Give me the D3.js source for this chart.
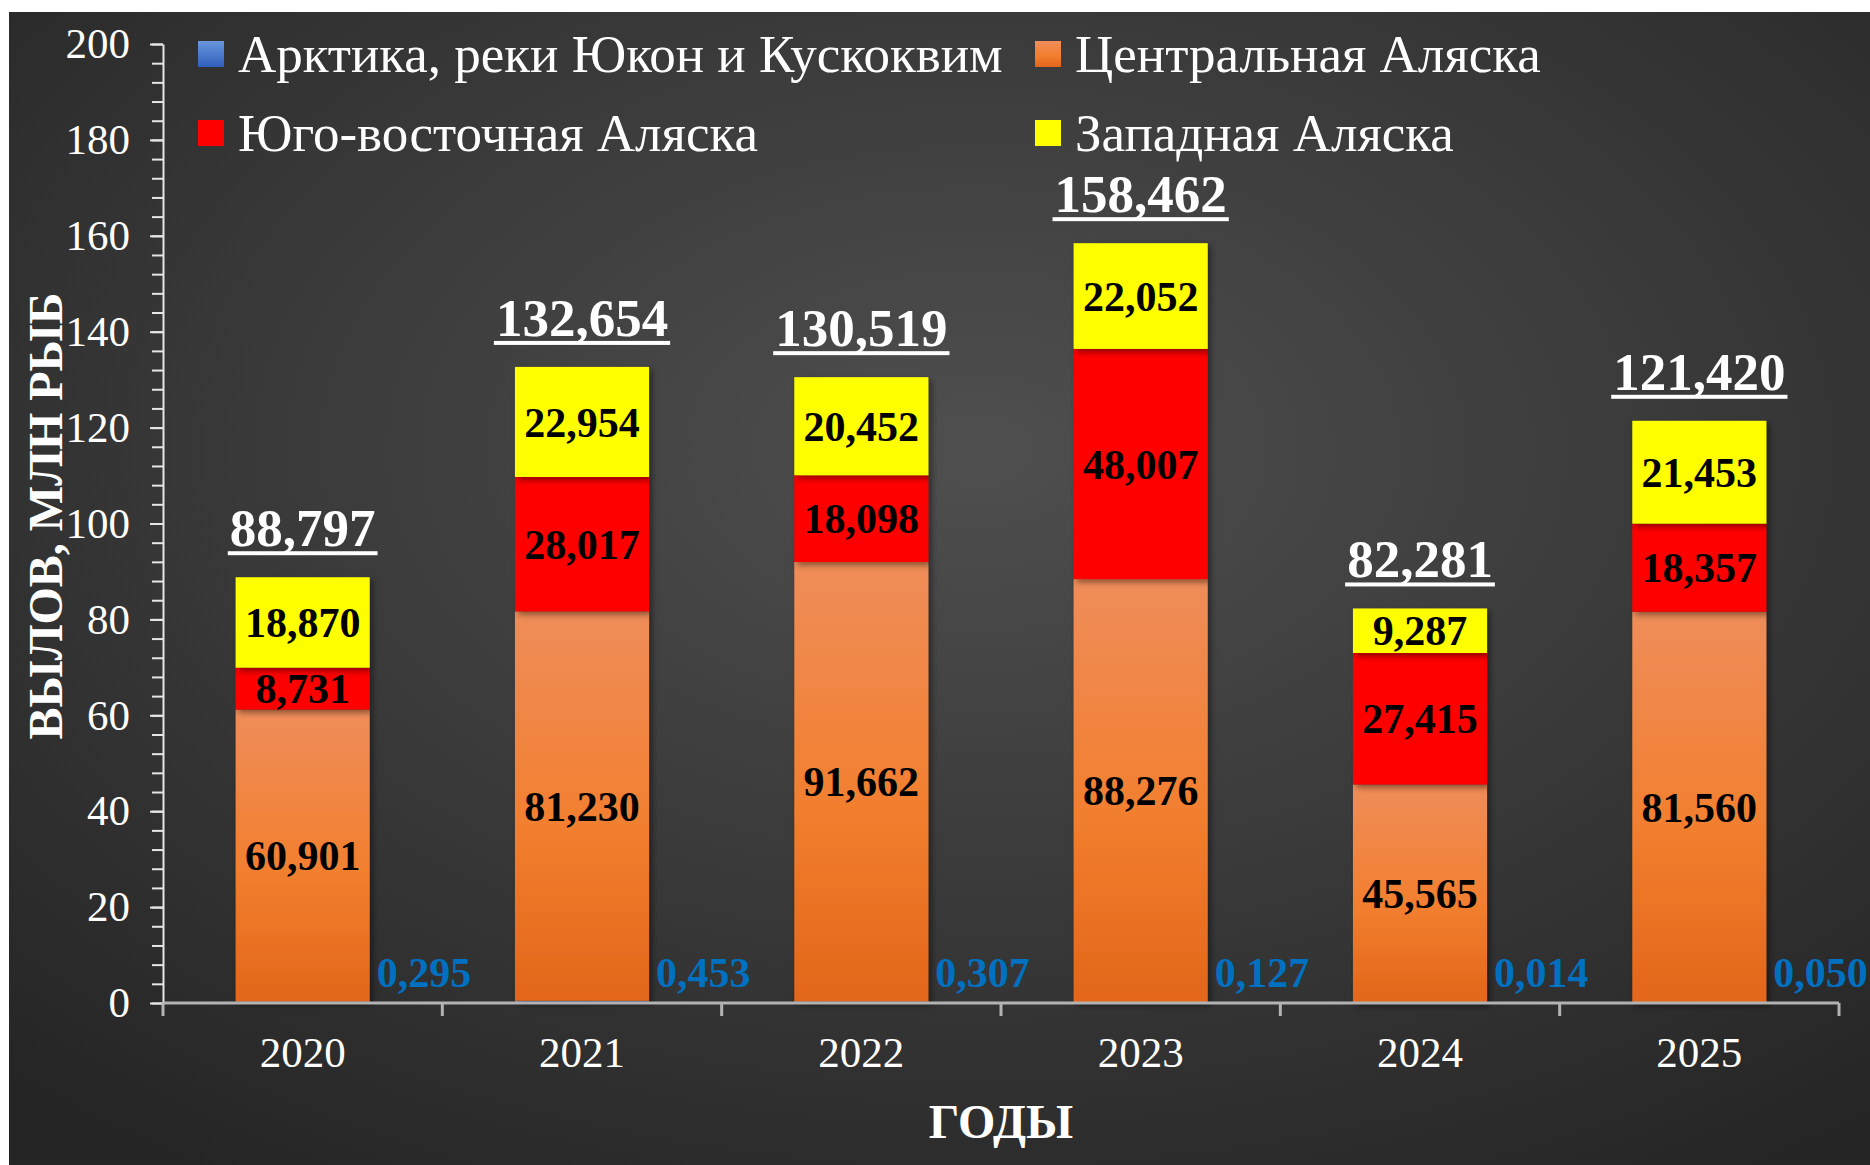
<!DOCTYPE html>
<html>
<head>
<meta charset="utf-8">
<script src="https://cdn.jsdelivr.net/npm/d3@7"></script>
<style>
  body { margin: 0; background: #fff; }
  svg { display: block; font-family: "Liberation Serif", "Times New Roman", serif; }
</style>
</head>
<body>
<script>
var W = 1870, H = 1165;

var years = ["2020", "2021", "2022", "2023", "2024", "2025"];
var arctic    = [0.295, 0.453, 0.307, 0.127, 0.014, 0.050];
var central   = [60.901, 81.230, 91.662, 88.276, 45.565, 81.560];
var southeast = [8.731, 28.017, 18.098, 48.007, 27.415, 18.357];
var western   = [18.870, 22.954, 20.452, 22.052, 9.287, 21.453];
var seriesNames = ["Арктика, реки Юкон и Кускоквим", "Центральная Аляска", "Юго-восточная Аляска", "Западная Аляска"];
var yTicks = d3.range(0, 201, 20);

var margin = {top: 44, right: 31, bottom: 162, left: 163};

var ruLocale = d3.formatLocale({decimal: ",", thousands: " ", grouping: [3], currency: ["", ""]});
var fmt = ruLocale.format(".3f");

// table for the stack
var data = years.map(function(y, i) {
  return {year: y, arctic: arctic[i], central: central[i], southeast: southeast[i], western: western[i]};
});
var keys = ["arctic", "central", "southeast", "western"];
var stack = d3.stack().keys(keys)(data);

var x = d3.scaleBand()
  .domain(years)
  .range([margin.left, W - margin.right])
  .paddingInner(0.52)
  .paddingOuter(0.26);

var y = d3.scaleLinear()
  .domain([0, 200])
  .range([H - margin.bottom, margin.top]);

var svg = d3.select("body").append("svg")
  .attr("width", W)
  .attr("height", H);

var defs = svg.append("defs");

var bg = defs.append("radialGradient").attr("id", "bg")
  .attr("cx", "52%").attr("cy", "38%").attr("r", "75%");
bg.append("stop").attr("offset", "0%").attr("stop-color", "#4f4f4f");
bg.append("stop").attr("offset", "100%").attr("stop-color", "#252525");

var og = defs.append("linearGradient").attr("id", "orange")
  .attr("x1", 0).attr("y1", 0).attr("x2", 0).attr("y2", 1);
og.append("stop").attr("offset", "0%").attr("stop-color", "#ef8d5a");
og.append("stop").attr("offset", "55%").attr("stop-color", "#f27f2f");
og.append("stop").attr("offset", "100%").attr("stop-color", "#e3661a");

var bgr = defs.append("linearGradient").attr("id", "blue")
  .attr("x1", 0).attr("y1", 0).attr("x2", 0).attr("y2", 1);
bgr.append("stop").attr("offset", "0%").attr("stop-color", "#6a96dc");
bgr.append("stop").attr("offset", "100%").attr("stop-color", "#2f5fbd");

var sh = defs.append("filter").attr("id", "shadow")
  .attr("x", "-20%").attr("y", "-20%").attr("width", "140%").attr("height", "140%");
sh.append("feDropShadow").attr("dx", 3).attr("dy", 3).attr("stdDeviation", 3)
  .attr("flood-color", "#000").attr("flood-opacity", 0.45);

var fills = {arctic: "url(#blue)", central: "url(#orange)", southeast: "#ff0000", western: "#ffff00"};

// background panel
svg.append("rect")
  .attr("x", 9).attr("y", 12)
  .attr("width", W - 9).attr("height", H - 12)
  .attr("fill", "url(#bg)");

// bars
svg.selectAll(".layer")
  .data(stack)
  .enter().append("g")
    .attr("class", "layer")
    .attr("fill", function(d) { return fills[d.key]; })
  .selectAll("rect")
  .data(function(d) { return d; })
  .enter().append("rect")
    .attr("x", function(d) { return x(d.data.year); })
    .attr("width", x.bandwidth())
    .attr("y", function(d) { return y(d[1]); })
    .attr("height", function(d) { return y(d[0]) - y(d[1]); })
    .attr("filter", "url(#shadow)");

// segment labels (black, bold)
["central", "southeast", "western"].forEach(function(k) {
  var layer = stack[keys.indexOf(k)];
  svg.selectAll(".lbl-" + k)
    .data(layer)
    .enter().append("text")
      .attr("class", "lbl-" + k)
      .attr("x", function(d) { return x(d.data.year) + x.bandwidth() / 2; })
      .attr("y", function(d) { return (y(d[0]) + y(d[1])) / 2; })
      .attr("dy", "0.35em")
      .attr("text-anchor", "middle")
      .attr("font-size", 42)
      .attr("font-weight", "bold")
      .attr("fill", "#000")
      .text(function(d) { return fmt(d.data[k]); });
});

// arctic labels (blue, right of bar)
svg.selectAll(".lbl-arctic")
  .data(data)
  .enter().append("text")
    .attr("class", "lbl-arctic")
    .attr("x", function(d) { return x(d.year) + x.bandwidth() + 7; })
    .attr("y", y(0) - 16)
    .attr("font-size", 42)
    .attr("font-weight", "bold")
    .attr("fill", "#0070c0")
    .text(function(d) { return fmt(d.arctic); });

// totals, underlined
var totals = svg.selectAll(".total")
  .data(data)
  .enter().append("g")
    .attr("class", "total");
totals.append("text")
  .attr("x", function(d) { return x(d.year) + x.bandwidth() / 2; })
  .attr("y", function(d) { return y(d.arctic + d.central + d.southeast + d.western) - 31; })
  .attr("text-anchor", "middle")
  .attr("font-size", 53)
  .attr("font-weight", "bold")
  .attr("fill", "#fff")
  .text(function(d) { return fmt(d.arctic + d.central + d.southeast + d.western); });
totals.each(function() {
  var t = d3.select(this).select("text");
  var b = t.node().getBBox();
  var base = +t.attr("y");
  d3.select(this).append("rect")
    .attr("x", b.x - 2).attr("width", b.width + 4)
    .attr("y", base + 5).attr("height", 4)
    .attr("fill", "#fff");
});

// y axis: minor then major
svg.append("g")
  .attr("transform", "translate(" + margin.left + ",0)")
  .call(d3.axisLeft(y).tickValues(d3.range(0, 201, 4)).tickSize(11).tickFormat(""))
  .call(function(g) { g.select(".domain").remove(); })
  .selectAll("line").attr("stroke", "#e6e6e6").attr("stroke-width", 2);

svg.append("g")
  .attr("transform", "translate(" + margin.left + ",0)")
  .call(d3.axisLeft(y).tickValues(yTicks).tickSize(13).tickPadding(20).tickSizeOuter(0))
  .call(function(g) {
    g.select(".domain").attr("stroke", "#e6e6e6").attr("stroke-width", 2);
    g.selectAll("line").attr("stroke", "#e6e6e6").attr("stroke-width", 2);
    g.selectAll("text").attr("fill", "#fff").attr("font-size", 43)
      .attr("font-family", "Liberation Serif");
  });

// x axis with ticks at band boundaries
var bounds = d3.range(years.length + 1).map(function(i) { return x.range()[0] + i * x.step(); });
var xa = svg.append("g").attr("class", "x axis");
xa.append("line")
  .attr("x1", x.range()[0]).attr("x2", x.range()[1])
  .attr("y1", y(0)).attr("y2", y(0))
  .attr("stroke", "#b3b3b3").attr("stroke-width", 3);
xa.selectAll(".xt")
  .data(bounds)
  .enter().append("line")
    .attr("class", "xt")
    .attr("x1", function(d) { return d; }).attr("x2", function(d) { return d; })
    .attr("y1", y(0)).attr("y2", y(0) + 13)
    .attr("stroke", "#b3b3b3").attr("stroke-width", 3);
xa.selectAll(".xl")
  .data(years)
  .enter().append("text")
    .attr("class", "xl")
    .attr("x", function(d) { return x(d) + x.bandwidth() / 2; })
    .attr("y", y(0) + 49)
    .attr("dy", "0.35em")
    .attr("text-anchor", "middle")
    .attr("font-size", 43)
    .attr("fill", "#fff")
    .text(function(d) { return d; });

// axis titles
svg.append("text")
  .attr("x", (x.range()[0] + x.range()[1]) / 2)
  .attr("y", 1121)
  .attr("dy", "0.35em")
  .attr("text-anchor", "middle")
  .attr("font-size", 48)
  .attr("font-weight", "bold")
  .attr("fill", "#fff")
  .text("ГОДЫ");

svg.append("text")
  .attr("transform", "translate(45," + 516 + ") rotate(-90)")
  .attr("dy", "0.35em")
  .attr("text-anchor", "middle")
  .attr("font-size", 48)
  .attr("font-weight", "bold")
  .attr("fill", "#fff")
  .text("ВЫЛОВ, МЛН РЫБ");

// legend
var legendFills = ["url(#blue)", "url(#orange)", "#ff0000", "#ffff00"];
var legendPos = [[198, 54], [1035, 54], [198, 133], [1035, 133]];
var lg = svg.selectAll(".legend")
  .data(seriesNames)
  .enter().append("g")
    .attr("class", "legend")
    .attr("transform", function(d, i) { return "translate(" + legendPos[i][0] + "," + legendPos[i][1] + ")"; });
lg.append("rect")
  .attr("x", 0).attr("y", -13)
  .attr("width", 26).attr("height", 26)
  .attr("fill", function(d, i) { return legendFills[i]; });
lg.append("text")
  .attr("x", 40)
  .attr("dy", "0.33em")
  .attr("font-size", 53)
  .attr("fill", "#fff")
  .text(function(d) { return d; });
</script>
</body>
</html>
